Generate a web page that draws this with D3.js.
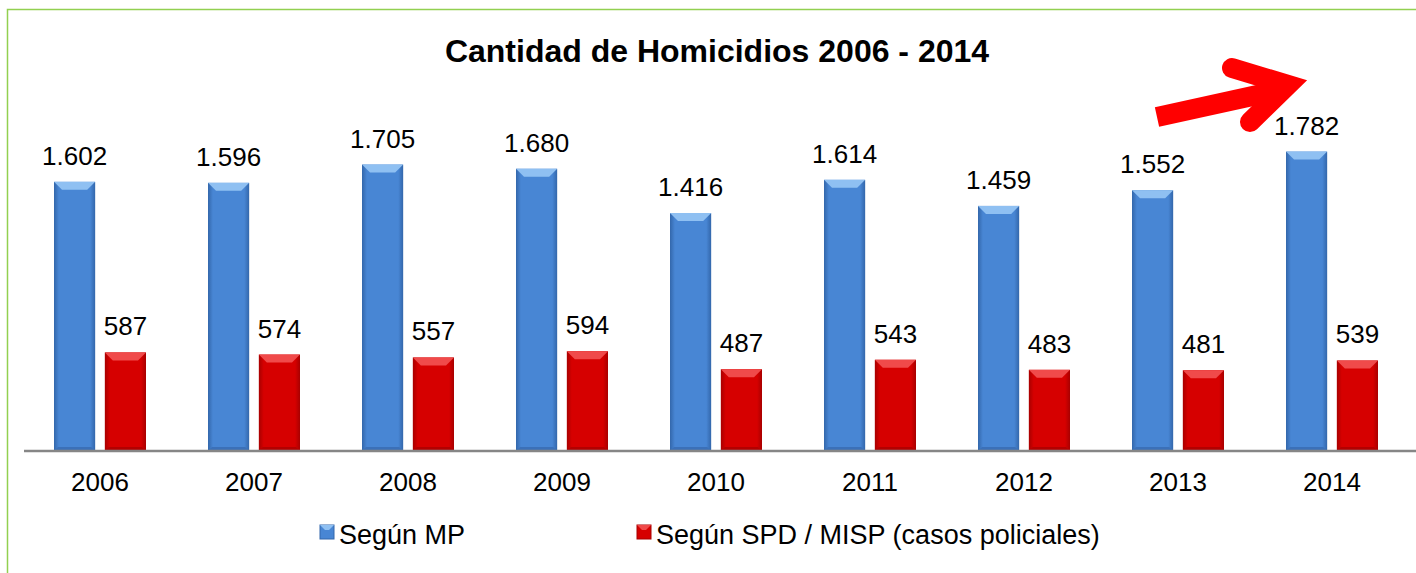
<!DOCTYPE html>
<html>
<head>
<meta charset="utf-8">
<script src="https://cdn.jsdelivr.net/npm/d3@7"></script>
<style>
  body { margin: 0; background: #fff; }
  svg { display: block; font-family: "Liberation Sans", Arial, sans-serif; }
</style>
</head>
<body>
<div id="screen"></div>
<script>
var years = ["2006", "2007", "2008", "2009", "2010", "2011", "2012", "2013", "2014"];
var seriesNames = ["Según MP", "Según SPD / MISP (casos policiales)"];
var mpValues = [1602, 1596, 1705, 1680, 1416, 1614, 1459, 1552, 1782];
var spdValues = [587, 574, 557, 594, 487, 543, 483, 481, 539];

var width = 1416, height = 573;
var baseY = 451;

var svg = d3.select("#screen").append("svg")
    .attr("width", width).attr("height", height);

var defs = svg.append("defs");
// side shading for the bevelled bars
var palettes = [
    {id: "gBlue", edge: "#3367ab", mid: "#4886d4", top: "#8fc0f2", bottom: "#3b70b8"},
    {id: "gRed", edge: "#a80000", mid: "#d60000", top: "#f04a4a", bottom: "#b30000"}
];
palettes.forEach(function(p) {
    var g = defs.append("linearGradient").attr("id", p.id)
        .attr("x1", 0).attr("x2", 1).attr("y1", 0).attr("y2", 0);
    g.append("stop").attr("offset", "0%").attr("stop-color", p.edge);
    g.append("stop").attr("offset", "12%").attr("stop-color", p.mid);
    g.append("stop").attr("offset", "88%").attr("stop-color", p.mid);
    g.append("stop").attr("offset", "100%").attr("stop-color", p.edge);
});

// frame
svg.append("path")
    .attr("d", "M7.5," + height + " L7.5,9.5 L" + width + ",9.5")
    .attr("fill", "none").attr("stroke", "#92d050").attr("stroke-width", 1.5);

svg.append("text")
    .attr("x", 717).attr("y", 62)
    .attr("text-anchor", "middle")
    .attr("font-size", "32px").attr("font-weight", "bold")
    .text("Cantidad de Homicidios 2006 - 2014");

var x = d3.scaleBand().domain(years).range([23, 1409]);
var inner = d3.scaleBand().domain([0, 1]).range([31, 123]).paddingInner(0.19);
var y = d3.scaleLinear().domain([0, 2000]).range([baseY, 115]);

function drawBar(g, x0, w, v, p) {
    var top = y(v), h = baseY - top, b = 8;
    g.append("rect").attr("x", x0).attr("y", top).attr("width", w).attr("height", h)
        .attr("fill", "url(#" + p.id + ")");
    g.append("path")
        .attr("d", "M" + x0 + "," + top + " L" + (x0 + w) + "," + top + " L" + (x0 + w - b) + "," + (top + b) + " L" + (x0 + b) + "," + (top + b) + " Z")
        .attr("fill", p.top);
    g.append("path")
        .attr("d", "M" + x0 + "," + baseY + " L" + (x0 + w) + "," + baseY + " L" + (x0 + w - 4) + "," + (baseY - 4) + " L" + (x0 + 4) + "," + (baseY - 4) + " Z")
        .attr("fill", p.bottom);
}

var series = [mpValues, spdValues];
series.forEach(function(vals, si) {
    var g = svg.append("g");
    years.forEach(function(yr, i) {
        var x0 = x(yr) + inner(si);
        drawBar(g, x0, inner.bandwidth(), vals[i], palettes[si]);
        g.append("text")
            .attr("x", x0 + inner.bandwidth() / 2)
            .attr("y", y(vals[i]) - 17)
            .attr("text-anchor", "middle")
            .attr("font-size", "26px")
            .text(d3.format(",")(vals[i]).replace(/,/g, "."));
    });
});

// axis
var axis = svg.append("g").attr("transform", "translate(0," + baseY + ")")
    .call(d3.axisBottom(x).tickSize(0).tickPadding(22));
axis.select(".domain").attr("d", "M24,0 H" + width).attr("stroke", "#868686").attr("stroke-width", 2.5);
axis.selectAll("text").attr("font-size", "26px").attr("fill", "#000")
    .attr("font-family", "Liberation Sans, Arial, sans-serif");

// legend
var legendX = [320, 637];
seriesNames.forEach(function(name, i) {
    var p = palettes[i];
    var lg = svg.append("g").attr("transform", "translate(" + legendX[i] + ",525)");
    lg.append("rect").attr("width", 14).attr("height", 14).attr("fill", p.mid).attr("stroke", p.edge);
    lg.append("path").attr("d", "M0,0 L14,0 L9,5 L5,5 Z").attr("fill", p.top);
    lg.append("text").attr("x", 19).attr("y", 19).attr("font-size", "27px").text(name);
});

// arrow
var arrow = svg.append("g").attr("fill", "none").attr("stroke", "#ff0000");
arrow.append("path").attr("d", "M1157,117 L1285,89")
    .attr("stroke-width", 20);
arrow.append("path").attr("d", "M1232,68 L1288,85 L1250,122")
    .attr("stroke-width", 20).attr("stroke-linecap", "round").attr("stroke-linejoin", "miter");
</script>
</body>
</html>
